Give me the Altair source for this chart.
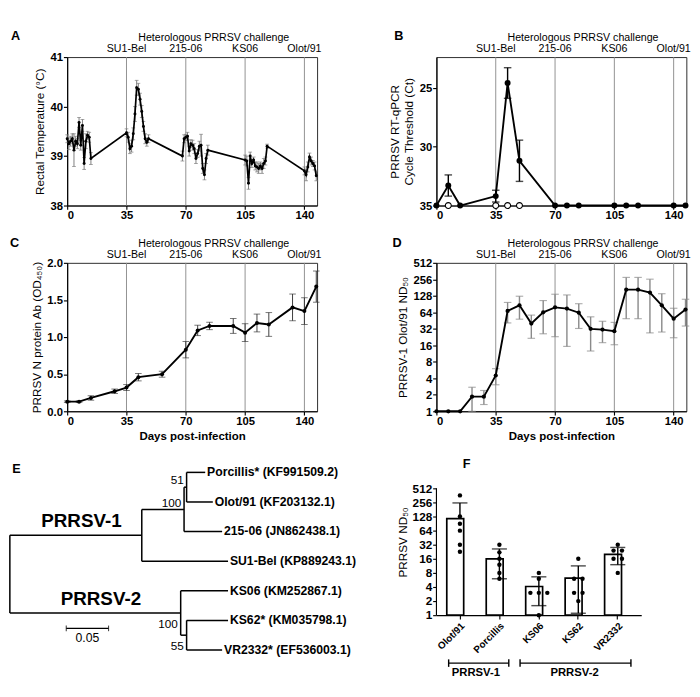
import altair as alt
import pandas as pd

FONT = "Liberation Sans"

# ---------------- shared annotations ----------------
challenge_days = [35, 70, 105, 140]
challenge_strains = ["SU1-Bel", "215-06", "KS06", "Olot/91"]
day_ticks = [0, 35, 70, 105, 140]
heading_text = "Heterologous PRRSV challenge"

# ---------------- A: rectal temperature ----------------
temp_days = [0, 1, 2, 3, 4, 5, 6, 7, 8, 9, 10, 11, 12, 13, 14,
             35, 36, 37, 38, 39, 40, 41, 42, 43, 44, 45, 46, 47, 48,
             68, 69, 70, 71, 72, 73, 74, 75, 76, 77, 78, 79, 80, 81, 82, 83,
             105, 106, 107, 108, 109, 110, 111, 112, 113, 114, 115, 116, 117, 118,
             140, 141, 142, 143, 144, 145, 146, 147]
temp_mean = [39.35, 39.25, 39.30, 39.35, 39.12, 39.30, 39.25, 39.68, 39.22, 39.62, 38.85, 39.30, 39.42, 39.38, 38.95,
             39.47, 39.38, 39.15, 39.20, 39.45, 39.85, 40.38, 40.35, 40.15, 39.90, 39.60, 39.35, 39.28, 39.35,
             39.00, 39.35, 39.38, 39.40, 39.10, 39.25, 39.22, 39.15, 38.95, 39.05, 39.20, 39.22, 38.75, 38.62, 38.95, 39.12,
             38.92, 38.90, 38.45, 39.00, 38.85, 38.92, 38.80, 38.78, 38.75, 38.80, 38.75, 38.85, 38.90, 39.20,
             38.70, 38.62, 38.78, 38.98, 38.90, 38.85, 38.80, 38.60]
temp_err = [0.08, 0.12, 0.10, 0.10, 0.33, 0.10, 0.10, 0.10, 0.10, 0.12, 0.12, 0.15, 0.08, 0.10, 0.12,
            0.08, 0.10, 0.10, 0.12, 0.12, 0.15, 0.15, 0.12, 0.12, 0.12, 0.10, 0.10, 0.08, 0.08,
            0.10, 0.08, 0.06, 0.08, 0.10, 0.08, 0.10, 0.10, 0.10, 0.08, 0.10, 0.22, 0.10, 0.10, 0.10, 0.10,
            0.10, 0.10, 0.12, 0.08, 0.08, 0.06, 0.08, 0.10, 0.10, 0.08, 0.10, 0.10, 0.08, 0.04,
            0.08, 0.12, 0.10, 0.08, 0.08, 0.06, 0.08, 0.10]

# ---------------- B: RT-qPCR Ct ----------------
ct_days = [0, 7, 14, 35, 42, 49, 70, 77, 84, 105, 112, 119, 140, 147]
ct_mean = [35, 33.3, 35, 34.2, 24.6, 31.2, 35, 35, 35, 35, 35, 35, 35, 35]
ct_err = [0, 0.9, 0, 0.5, 1.3, 1.75, 0, 0, 0, 0, 0, 0, 0, 0]
ct_open_days = [7, 35, 42, 49]
ct_open_value = [35, 35, 35, 35]

# ---------------- C: N protein antibody ----------------
od_days = [0, 7, 14, 28, 35, 42, 56, 70, 77, 84, 98, 105, 112, 119, 133, 140, 147]
od_mean = [0.13, 0.13, 0.18, 0.27, 0.32, 0.46, 0.50, 0.83, 1.09, 1.15, 1.15, 1.06, 1.19, 1.17, 1.40, 1.35, 1.68]
od_err = [0.01, 0.01, 0.03, 0.03, 0.04, 0.05, 0.04, 0.11, 0.07, 0.05, 0.10, 0.12, 0.12, 0.16, 0.18, 0.18, 0.21]

# ---------------- D: Olot/91 ND50 ----------------
nd_days = [0, 7, 14, 21, 28, 35, 42, 49, 56, 63, 70, 77, 84, 91, 98, 105, 112, 119, 126, 133, 140, 147]
nd_mean = [1, 1, 1, 1.85, 1.85, 4.5, 68, 86, 40, 64, 79, 75, 63, 32, 31, 29, 166, 166, 147, 86, 49, 72]
nd_low = [1, 1, 1, 1, 1.33, 3.05, 41, 48, 21.5, 26, 23, 15.3, 32.5, 12.6, 17.9, 16.4, 49, 49, 27, 28, 22, 36]
nd_high = [1, 1, 1, 2.75, 2.4, 6, 97, 126, 57, 105, 137, 133, 92, 53, 44, 42, 278, 278, 258, 140, 76, 111]

# ---------------- E: phylogenetic tree ----------------
tree_nodes = ["root", "P1", "P1a", "P1b", "P2", "P2a",
              "Porcillis", "Olot91", "215-06", "SU1-Bel", "KS06", "KS62", "VR2332"]
tree_parent = ["", "root", "P1", "P1a", "root", "P2",
               "P1b", "P1b", "P1a", "P1", "P2", "P2a", "P2a"]
tree_depth = [0.0, 0.156, 0.206, 0.209, 0.202, 0.209,
              0.231, 0.240, 0.251, 0.258, 0.258, 0.258, 0.251]
leaf_order = ["Porcillis", "Olot91", "215-06", "SU1-Bel", "KS06", "KS62", "VR2332"]
leaf_labels = ["Porcillis* (KF991509.2)", "Olot/91 (KF203132.1)", "215-06 (JN862438.1)",
               "SU1-Bel (KP889243.1)", "KS06 (KM252867.1)", "KS62* (KM035798.1)",
               "VR2332* (EF536003.1)"]
support_upper_nodes = ["P1b", "P1a"]
support_upper_values = ["51", "100"]
support_lower_nodes = ["P2", "P2a"]
support_lower_values = ["100", "55"]
clade_nodes = ["P1", "P2"]
clade_labels = ["PRRSV-1", "PRRSV-2"]
scale_bar_start = 0.0667
scale_bar_length = 0.05
scale_bar_row = 5.27

# ---------------- F: neutralisation ----------------
f_groups = ["Olot/91", "Porcillis", "KS06", "KS62", "VR2332"]
f_olot = [362, 128, 90, 64, 32, 22.6]
f_porcillis = [32, 22, 16, 12, 8, 6]
f_ks06 = [8, 6, 3, 3, 3, 1]
f_ks62 = [16, 6, 6, 3, 3, 2]
f_vr2332 = [32, 24, 24, 16, 16, 8]
f_mean = [116, 16, 4.1, 6.2, 20]
f_sd = [134, 10, 2.5, 5.1, 8]
f_ticks = [1, 2, 4, 8, 16, 32, 64, 128, 256, 512]

# =====================================================================
chal_df = pd.DataFrame({"day": challenge_days, "strain": challenge_strains})
head_df = pd.DataFrame({"t": [heading_text]})

xs = alt.Scale(domain=[0, 147.5], nice=False, zero=False)
LETTER = 13.5
SMALL = 11.3


def xenc(title=None):
    return alt.X("day:Q", scale=xs,
                 axis=alt.Axis(values=day_ticks, title=title, titleFontWeight="bold",
                               titleFontSize=12.2, titlePadding=4))


def deco(letter, lx, ly, x_title=None):
    xe = xenc(x_title)
    rules = alt.Chart(chal_df).mark_rule(color="#8c8c8c", strokeWidth=1).encode(x=xe)
    strains = alt.Chart(chal_df).mark_text(fontSize=SMALL, baseline="middle").encode(
        x=xe, y=alt.value(-8), text="strain:N")
    heading = alt.Chart(head_df).mark_text(fontSize=SMALL, baseline="middle").encode(
        x=alt.value(156), y=alt.value(-20), text="t:N")
    lab = alt.Chart(pd.DataFrame({"t": [letter]})).mark_text(
        fontSize=LETTER, fontWeight="bold", baseline="middle").encode(
        x=alt.value(lx), y=alt.value(ly), text="t:N")
    return rules, [strains, heading, lab], xe


frame = alt.ViewBackground(stroke="#222222", strokeWidth=1)
W, H = 266, 158

# ---- A
a_df = pd.DataFrame({"day": temp_days, "val": temp_mean})
a_df["lo"] = a_df["val"] - pd.Series(temp_err)
a_df["hi"] = a_df["val"] + pd.Series(temp_err)
ya_s = alt.Scale(domain=[38, 41], nice=False, zero=False)
ya_a = alt.Axis(values=[38, 39, 40, 41], title="Rectal Temperature (°C)", titlePadding=4)
rules, texts, xe = deco("A", -55, -22)
a_base = alt.Chart(a_df)
panel_a = alt.layer(
    rules,
    a_base.mark_rule(color="#777777", strokeWidth=1).encode(
        x=xe, y=alt.Y("lo:Q", scale=ya_s, axis=ya_a), y2="hi:Q"),
    a_base.mark_tick(orient="horizontal", size=4, thickness=1, color="#777777").encode(
        x=xe, y=alt.Y("lo:Q", scale=ya_s, axis=ya_a)),
    a_base.mark_tick(orient="horizontal", size=4, thickness=1, color="#777777").encode(
        x=xe, y=alt.Y("hi:Q", scale=ya_s, axis=ya_a)),
    a_base.mark_line(color="black", strokeWidth=1.8).encode(
        x=xe, y=alt.Y("val:Q", scale=ya_s, axis=ya_a)),
    a_base.mark_circle(color="black", size=10, opacity=1).encode(
        x=xe, y=alt.Y("val:Q", scale=ya_s, axis=ya_a)),
    *texts,
).properties(width=W, height=H, view=frame)

# ---- B
b_df = pd.DataFrame({"day": ct_days, "val": ct_mean})
b_df["lo"] = b_df["val"] - pd.Series(ct_err)
b_df["hi"] = b_df["val"] + pd.Series(ct_err)
b_err = b_df[pd.Series(ct_err) > 0]
b_open = pd.DataFrame({"day": ct_open_days, "val": ct_open_value})
yb_s = alt.Scale(domain=[35, 22.4], nice=False, zero=False)
yb_a = alt.Axis(values=[25, 30, 35], title=["PRRSV RT-qPCR", "Cycle Threshold (Ct)"], titlePadding=4)
rules, texts, xe = deco("B", -40, -22)
panel_b = alt.layer(
    rules,
    alt.Chart(b_err).mark_rule(color="black", strokeWidth=1.5).encode(
        x=xe, y=alt.Y("lo:Q", scale=yb_s, axis=yb_a), y2="hi:Q"),
    alt.Chart(b_err).mark_tick(orient="horizontal", size=8, thickness=1.5, color="black").encode(
        x=xe, y=alt.Y("lo:Q", scale=yb_s, axis=yb_a)),
    alt.Chart(b_err).mark_tick(orient="horizontal", size=8, thickness=1.5, color="black").encode(
        x=xe, y=alt.Y("hi:Q", scale=yb_s, axis=yb_a)),
    alt.Chart(b_df).mark_line(color="black", strokeWidth=2).encode(
        x=xe, y=alt.Y("val:Q", scale=yb_s, axis=yb_a)),
    alt.Chart(b_open).mark_point(shape="circle", filled=True, fill="white", stroke="black",
                                 strokeWidth=1.2, size=40, opacity=1).encode(
        x=xe, y=alt.Y("val:Q", scale=yb_s, axis=yb_a)),
    alt.Chart(b_df).mark_circle(color="black", size=40, opacity=1).encode(
        x=xe, y=alt.Y("val:Q", scale=yb_s, axis=yb_a)),
    *texts,
).properties(width=W, height=H, view=frame)

# ---- C
c_df = pd.DataFrame({"day": od_days, "val": od_mean})
c_df["lo"] = c_df["val"] - pd.Series(od_err)
c_df["hi"] = c_df["val"] + pd.Series(od_err)
yc_s = alt.Scale(domain=[0, 2], nice=False, zero=False)
yc_a = alt.Axis(values=[0, 0.5, 1, 1.5, 2], format=".1f", title="PRRSV N protein Ab (OD₄₅₀)",
                titlePadding=4)
rules, texts, xe = deco("C", -56, -21, "Days post-infection")
c_base = alt.Chart(c_df)
panel_c = alt.layer(
    rules,
    c_base.mark_rule(color="#333333", strokeWidth=1).encode(
        x=xe, y=alt.Y("lo:Q", scale=yc_s, axis=yc_a), y2="hi:Q"),
    c_base.mark_tick(orient="horizontal", size=7, thickness=1, color="#333333").encode(
        x=xe, y=alt.Y("lo:Q", scale=yc_s, axis=yc_a)),
    c_base.mark_tick(orient="horizontal", size=7, thickness=1, color="#333333").encode(
        x=xe, y=alt.Y("hi:Q", scale=yc_s, axis=yc_a)),
    c_base.mark_line(color="black", strokeWidth=2).encode(
        x=xe, y=alt.Y("val:Q", scale=yc_s, axis=yc_a)),
    c_base.mark_circle(color="black", size=18, opacity=1).encode(
        x=xe, y=alt.Y("val:Q", scale=yc_s, axis=yc_a)),
    *texts,
).properties(width=W, height=H, view=frame)

# ---- D
d_df = pd.DataFrame({"day": nd_days, "val": nd_mean, "lo": nd_low, "hi": nd_high})
d_err = d_df[d_df["hi"] > d_df["lo"]]
yd_s = alt.Scale(type="log", base=2, domain=[1, 512], nice=False)
yd_a = alt.Axis(values=f_ticks, format="d", title="PRRSV-1 Olot/91 ND₅₀", titlePadding=4)
rules, texts, xe = deco("D", -42, -21, "Days post-infection")
panel_d = alt.layer(
    rules,
    alt.Chart(d_err).mark_rule(color="#8a8a8a", strokeWidth=1.5).encode(
        x=xe, y=alt.Y("lo:Q", scale=yd_s, axis=yd_a), y2="hi:Q"),
    alt.Chart(d_err).mark_tick(orient="horizontal", size=8, thickness=1.2, color="#8a8a8a").encode(
        x=xe, y=alt.Y("lo:Q", scale=yd_s, axis=yd_a)),
    alt.Chart(d_err).mark_tick(orient="horizontal", size=8, thickness=1.2, color="#8a8a8a").encode(
        x=xe, y=alt.Y("hi:Q", scale=yd_s, axis=yd_a)),
    alt.Chart(d_df).mark_line(color="black", strokeWidth=2).encode(
        x=xe, y=alt.Y("val:Q", scale=yd_s, axis=yd_a)),
    alt.Chart(d_df).mark_circle(color="black", size=20, opacity=1).encode(
        x=xe, y=alt.Y("val:Q", scale=yd_s, axis=yd_a)),
    *texts,
).properties(width=W, height=H, view=frame)

# ---- E : tree
depth = dict(zip(tree_nodes, tree_depth))
parent = dict(zip(tree_nodes, tree_parent))
children = {n: [m for m in tree_nodes if parent[m] == n] for n in tree_nodes}
ypos = {}


def place(n):
    if n in leaf_order:
        ypos[n] = leaf_order.index(n)
    else:
        for ch in children[n]:
            place(ch)
        ypos[n] = sum(ypos[ch] for ch in children[n]) / len(children[n])


place("root")
hseg = pd.DataFrame([{"x": depth[parent[n]], "x2": depth[n], "y": ypos[n]}
                     for n in tree_nodes if parent[n]])
vseg = pd.DataFrame([{"x": depth[n], "y": min(ypos[c] for c in children[n]),
                      "y2": max(ypos[c] for c in children[n])}
                     for n in tree_nodes if children[n]])
leaf_df = pd.DataFrame({"x": [depth[n] for n in leaf_order],
                        "y": [ypos[n] for n in leaf_order], "t": leaf_labels})
sup_up = pd.DataFrame({"x": [depth[n] for n in support_upper_nodes],
                       "y": [ypos[n] for n in support_upper_nodes], "t": support_upper_values})
sup_lo = pd.DataFrame({"x": [depth[n] for n in support_lower_nodes],
                       "y": [ypos[n] for n in support_lower_nodes], "t": support_lower_values})
clade_df = pd.DataFrame({"x": [(depth["root"] + depth[n]) / 2 for n in clade_nodes],
                         "y": [ypos[n] for n in clade_nodes], "t": clade_labels})
bar_df = pd.DataFrame({"x": [scale_bar_start], "x2": [scale_bar_start + scale_bar_length],
                       "y": [scale_bar_row], "t": [str(scale_bar_length)]})
bar_df["xm"] = (bar_df["x"] + bar_df["x2"]) / 2
bar_ends = pd.DataFrame({"x": [scale_bar_start, scale_bar_start + scale_bar_length],
                         "y": [scale_bar_row, scale_bar_row]})

tx = alt.Scale(domain=[0.0678, 0.4], nice=False, zero=False)
ty = alt.Scale(domain=[-0.127, 6.38], nice=False, zero=False, reverse=True)
TX = alt.X("x:Q", scale=tx, axis=None)
TY = alt.Y("y:Q", scale=ty, axis=None)
panel_e = alt.layer(
    alt.Chart(hseg).mark_rule(color="black", strokeWidth=1.6).encode(x=TX, x2="x2:Q", y=TY),
    alt.Chart(vseg).mark_rule(color="black", strokeWidth=1.6).encode(x=TX, y=TY, y2="y2:Q"),
    alt.Chart(leaf_df).mark_text(align="left", dx=2, baseline="middle", fontSize=13,
                                 fontWeight="bold").encode(x=TX, y=TY, text="t:N"),
    alt.Chart(sup_up).mark_text(align="right", dx=-3, dy=-7, baseline="middle",
                                fontSize=12.5).encode(x=TX, y=TY, text="t:N"),
    alt.Chart(sup_lo).mark_text(align="right", dx=-3, dy=12, baseline="middle",
                                fontSize=12.5).encode(x=TX, y=TY, text="t:N"),
    alt.Chart(clade_df).mark_text(align="center", dx=6, dy=-15, baseline="middle",
                                  fontSize=20, fontWeight="bold").encode(x=TX, y=TY, text="t:N"),
    alt.Chart(bar_df).mark_rule(color="black", strokeWidth=1.2).encode(x=TX, x2="x2:Q", y=TY),
    alt.Chart(bar_ends).mark_tick(orient="vertical", size=6, thickness=1.2, color="black").encode(
        x=TX, y=TY),
    alt.Chart(bar_df).mark_text(dy=11, baseline="middle", fontSize=13).encode(
        x=alt.X("xm:Q", scale=tx, axis=None), y=TY, text="t:N"),
    alt.Chart(pd.DataFrame({"t": ["E"]})).mark_text(fontSize=LETTER, fontWeight="bold",
                                                    baseline="middle").encode(
        x=alt.value(-54), y=alt.value(1), text="t:N"),
).properties(width=299, height=205)

# ---- F : bars
dots = []
for g, vals in zip(f_groups, [f_olot, f_porcillis, f_ks06, f_ks62, f_vr2332]):
    for v in vals:
        dots.append({"group": g, "val": v})
dots_df = pd.DataFrame(dots)
dots_df["rank"] = dots_df.groupby(["group", "val"]).cumcount()
dots_df["n"] = dots_df.groupby(["group", "val"])["val"].transform("count")
dots_df["off"] = (dots_df["rank"] - (dots_df["n"] - 1) / 2) * 9

fb = pd.DataFrame({"group": f_groups, "val": f_mean, "sd": f_sd})
fb["base"] = 1
fb["hi"] = fb["val"] + fb["sd"]
fb["lo"] = fb["val"] - fb["sd"]
fb_lo = fb[fb["lo"] > 0]
axis_df = pd.DataFrame({"lo": [1], "hi": [512]})

fx = alt.X("group:N", sort=f_groups,
           scale=alt.Scale(domain=f_groups, paddingInner=0.333, paddingOuter=0.262),
           axis=alt.Axis(title=None, labelAngle=-45, labelFontSize=10.5, labelPadding=2))
fy_s = alt.Scale(type="log", base=2, domain=[1, 1351], nice=False)
fy_a = alt.Axis(values=f_ticks, format="d", title="PRRSV ND₅₀", domain=False, titlePadding=3,
                labelFontSize=12.5)
one = pd.DataFrame({"t": ["F"]})
panel_f = alt.layer(
    alt.Chart(fb).mark_bar(fill="white", stroke="black", strokeWidth=1.8).encode(
        x=fx, y=alt.Y("val:Q", scale=fy_s, axis=fy_a), y2="base:Q"),
    alt.Chart(axis_df).mark_rule(color="black", strokeWidth=1.2).encode(
        x=alt.value(0), y=alt.Y("lo:Q", scale=fy_s, axis=fy_a), y2="hi:Q"),
    alt.Chart(dots_df).mark_circle(color="black", size=22, opacity=1).encode(
        x=fx, xOffset=alt.XOffset("off:Q", scale=alt.Scale(domain=[-14, 14], range=[0, 28])),
        y=alt.Y("val:Q", scale=fy_s, axis=fy_a)),
    alt.Chart(fb).mark_rule(color="black", strokeWidth=1.5).encode(
        x=fx, y=alt.Y("val:Q", scale=fy_s, axis=fy_a), y2="hi:Q"),
    alt.Chart(fb_lo).mark_rule(color="black", strokeWidth=1.5).encode(
        x=fx, y=alt.Y("lo:Q", scale=fy_s, axis=fy_a), y2="val:Q"),
    alt.Chart(fb).mark_tick(orient="horizontal", size=16, thickness=1.5, color="black").encode(
        x=fx, y=alt.Y("hi:Q", scale=fy_s, axis=fy_a)),
    alt.Chart(fb_lo).mark_tick(orient="horizontal", size=16, thickness=1.5, color="black").encode(
        x=fx, y=alt.Y("lo:Q", scale=fy_s, axis=fy_a)),
    # group brackets
    alt.Chart(one).mark_rule(color="black", strokeWidth=1.5).encode(
        x=alt.value(13), x2=alt.value(77), y=alt.value(207)),
    alt.Chart(one).mark_rule(color="black", strokeWidth=1.5).encode(
        x=alt.value(13), y=alt.value(203), y2=alt.value(211)),
    alt.Chart(one).mark_rule(color="black", strokeWidth=1.5).encode(
        x=alt.value(77), y=alt.value(203), y2=alt.value(211)),
    alt.Chart(one).mark_rule(color="black", strokeWidth=1.5).encode(
        x=alt.value(89), x2=alt.value(207), y=alt.value(207)),
    alt.Chart(one).mark_rule(color="black", strokeWidth=1.5).encode(
        x=alt.value(89), y=alt.value(203), y2=alt.value(211)),
    alt.Chart(one).mark_rule(color="black", strokeWidth=1.5).encode(
        x=alt.value(207), y=alt.value(203), y2=alt.value(211)),
    alt.Chart(one).mark_text(fontSize=12, fontWeight="bold", baseline="middle").encode(
        x=alt.value(42), y=alt.value(217), text=alt.value("PRRSV-1")),
    alt.Chart(one).mark_text(fontSize=12, fontWeight="bold", baseline="middle").encode(
        x=alt.value(147), y=alt.value(217), text=alt.value("PRRSV-2")),
    alt.Chart(one).mark_text(fontSize=LETTER, fontWeight="bold", baseline="middle").encode(
        x=alt.value(32), y=alt.value(-5), text="t:N"),
).properties(width=218, height=156)

chart = alt.concat(
    panel_a, panel_b, panel_c, panel_d, panel_e, panel_f,
    columns=2, spacing={"row": 61, "column": 94}, align="none", bounds="flush",
).properties(padding=0).configure(font=FONT).configure_view(
    stroke="transparent"
).configure_axis(
    labelFont=FONT, titleFont=FONT, labelFontWeight="bold", labelFontSize=12,
    labelColor="black", titleColor="black", titleFontWeight="normal", titleFontSize=12.5,
    tickColor="black", domainColor="black", tickSize=4, labelPadding=1, grid=False,
    domainWidth=1.2, tickWidth=1.2,
).configure_text(font=FONT, color="black")

chart.save("out.html", embed_options={"renderer": "svg", "actions": False})
